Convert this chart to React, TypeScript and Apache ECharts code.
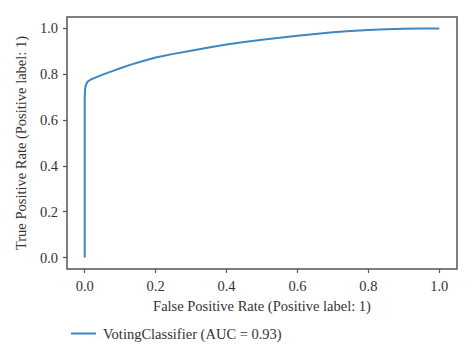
import React, { useEffect, useRef } from "react";
import * as echarts from "echarts";

const fpr = [0, 0, 0.001, 0.003, 0.006, 0.01, 0.016, 0.025, 0.04, 0.06, 0.08, 0.1, 0.13, 0.16, 0.2, 0.25, 0.3, 0.35, 0.4, 0.45, 0.5, 0.55, 0.6, 0.65, 0.7, 0.75, 0.8, 0.85, 0.9, 0.95, 1.0];
const tpr = [0, 0.7, 0.735, 0.752, 0.763, 0.77, 0.776, 0.782, 0.792, 0.804, 0.815, 0.826, 0.842, 0.856, 0.873, 0.889, 0.903, 0.917, 0.93, 0.941, 0.951, 0.959, 0.968, 0.976, 0.983, 0.989, 0.993, 0.997, 0.999, 1.0, 1.0];
const tickValues = [0, 0.2, 0.4, 0.6, 0.8, 1.0];
const seriesName = "VotingClassifier (AUC = 0.93)";
const xTitle = "False Positive Rate (Positive label: 1)";
const yTitle = "True Positive Rate (Positive label: 1)";

const FONT = "'Liberation Serif', 'DejaVu Serif', serif";
const TEXT = "#333333";
const FRAME = "#555555";
const LINE = "#3f87c2";

export default function App() {
  const ref = useRef<HTMLDivElement>(null);
  useEffect(() => {
    if (!ref.current) return;
    const chart = echarts.init(ref.current, undefined, { renderer: "svg" });
    const axisCommon = (name: string) => ({
      type: "value" as const,
      min: -0.05,
      max: 1.05,
      name,
      nameLocation: "middle" as const,
      nameTextStyle: { fontFamily: FONT, fontSize: 14.5, color: TEXT },
      axisLine: { show: false, onZero: false },
      splitLine: { show: false },
      axisTick: {
        show: true,
        inside: false,
        length: 4,
        lineStyle: { color: FRAME, width: 1.2 },
        customValues: tickValues,
      },
      axisLabel: {
        fontFamily: FONT,
        fontSize: 14.5,
        color: TEXT,
        margin: 9,
        customValues: tickValues,
        formatter: (v: number) => v.toFixed(1),
      },
    });
    chart.setOption({
      animation: false,
      backgroundColor: "#ffffff",
      grid: {
        left: 67,
        top: 17,
        width: 390,
        height: 252,
        show: true,
        borderColor: FRAME,
        borderWidth: 1.5,
        backgroundColor: "transparent",
        containLabel: false,
      },
      xAxis: { ...axisCommon(xTitle), nameGap: 29 },
      yAxis: { ...axisCommon(yTitle), nameGap: 35.5 },
      legend: {
        show: true,
        left: 66,
        top: 321,
        icon: "rect",
        itemWidth: 25,
        itemHeight: 2,
        itemGap: 10,
        textStyle: { fontFamily: FONT, fontSize: 14.5, color: TEXT, padding: [0, 0, 0, 2] },
        data: [{ name: seriesName, itemStyle: { color: LINE } }],
      },
      series: [
        {
          name: seriesName,
          type: "line",
          data: fpr.map((x, i) => [x, tpr[i]]),
          showSymbol: false,
          symbol: "none",
          smooth: false,
          lineStyle: { color: LINE, width: 2 },
          itemStyle: { color: LINE },
        },
      ],
    });
    return () => chart.dispose();
  }, []);
  return (
    <div
      ref={ref}
      style={{ position: "absolute", left: 0, top: 0, width: 474, height: 361 }}
    />
  );
}
